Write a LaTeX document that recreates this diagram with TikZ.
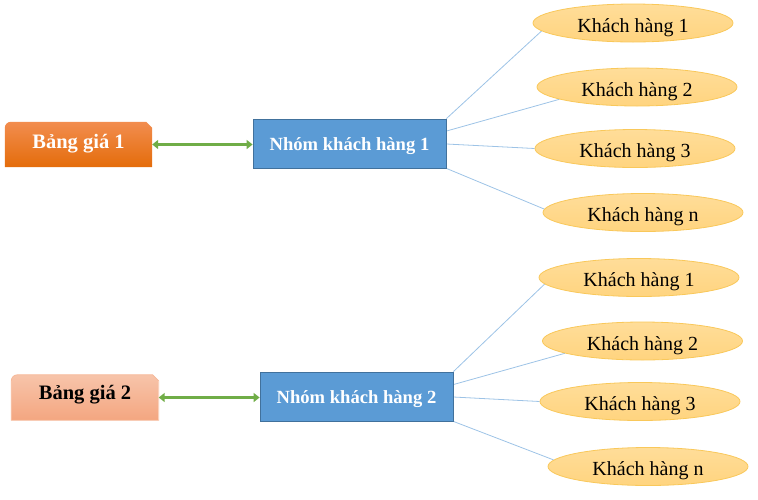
\documentclass[tikz,border=0pt]{standalone}
\usepackage{fontspec}
\setmainfont{Liberation Serif}
\usetikzlibrary{shapes.geometric,arrows.meta,calc,backgrounds}
\definecolor{grp}{HTML}{5B9BD5}
\definecolor{grpb}{HTML}{41719C}
\definecolor{lnk}{HTML}{9DC3E6}
\definecolor{arr}{HTML}{70AD47}
\definecolor{ellf}{HTML}{FFD47F}
\definecolor{ellt}{HTML}{FFDD99}
\definecolor{ellb}{HTML}{F9C85A}
\definecolor{orT}{HTML}{F28D4F}
\definecolor{orB}{HTML}{E46C0A}
\definecolor{saT}{HTML}{F7C4AA}
\definecolor{saB}{HTML}{F4A680}
\definecolor{saD}{HTML}{F6B898}
\tikzset{
  grpbox/.style={draw=grpb, line width=0.8pt, fill=grp, minimum width=193pt, minimum height=49pt, inner sep=0pt,
    text=white, font=\bfseries\fontsize{18.6}{22}\selectfont, text height=16pt, text depth=3pt},
  pricebox/.style={minimum width=147pt, minimum height=45pt, inner sep=0pt,
    font=\bfseries\fontsize{20.5}{24}\selectfont},
  cust/.style={ellipse, draw=ellb, line width=0.8pt, top color=ellt, bottom color=ellf, minimum width=200pt, minimum height=38pt,
    inner sep=0pt, font=\fontsize{20}{24}\selectfont, text height=18pt, text depth=0pt},
  link/.style={draw=lnk, line width=0.8pt},
  dbl/.style={draw=arr, line width=3pt, {Triangle[length=6pt,width=9pt]}-{Triangle[length=6pt,width=9pt]}}
}
\begin{document}
\begin{tikzpicture}[x=1pt,y=-1pt]
\useasboundingbox (0,0) rectangle (758,499);
% price boxes
\node[pricebox, text=white, text height=12pt, text depth=5pt] (b1) at (78.5,144.5) {Bảng giá 1};
\node[pricebox, text=black, text height=10pt, text depth=7pt] (b2) at (85,397.5) {Bảng giá 2};
\begin{scope}[on background layer]
\shade[top color=orT, bottom color=orB] (b1.south west) [rounded corners=6pt] -- (b1.north west) [sharp corners] -- ($(b1.north east)+(-6,0)$) -- ($(b1.north east)+(0,6)$) -- (b1.south east) -- cycle;
\shade[top color=saT, bottom color=saB, draw=saD, line width=0.8pt] (b2.south west) [rounded corners=6pt] -- (b2.north west) [sharp corners] -- ($(b2.north east)+(-6,0)$) -- ($(b2.north east)+(0,6)$) -- (b2.south east) -- cycle;
\end{scope}
% groups
\node[grpbox] (r1) at (349.5,143.5) {Nhóm khách hàng 1};
\node[grpbox] (r2) at (356.5,396.5) {Nhóm khách hàng 2};
% arrows
\draw[dbl] (b1.east) -- (b1.east -| r1.west);
\draw[dbl] (b2.east) -- (b2.east -| r2.west);
% customers group 1
\node[cust] (a1) at (633,23) {Khách hàng 1};
\node[cust] (a2) at (637,87) {Khách hàng 2};
\node[cust] (a3) at (635,148.5) {Khách hàng 3};
\node[cust] (a4) at (643,212.5) {Khách hàng n};
% customers group 2
\node[cust] (c1) at (639,277.5) {Khách hàng 1};
\node[cust] (c2) at (642.5,341) {Khách hàng 2};
\node[cust] (c3) at (640,401.5) {Khách hàng 3};
\node[cust] (c4) at (648,466.5) {Khách hàng n};
% links
\begin{scope}[on background layer]
\draw[link] (r1.north east) -- (a1.185.6);
\draw[link] ($(r1.north east)!0.25!(r1.south east)$) -- (a2.189);
\draw[link] ($(r1.north east)!0.51!(r1.south east)$) -- (a3.west);
\draw[link] (r1.south east) -- (a4.178);
\draw[link] (r2.north east) -- (c1.184.7);
\draw[link] ($(r2.north east)!0.26!(r2.south east)$) -- (c2.189);
\draw[link] ($(r2.north east)!0.51!(r2.south east)$) -- (c3.west);
\draw[link] (r2.south east) -- (c4.176.7);
\end{scope}
\end{tikzpicture}
\end{document}
